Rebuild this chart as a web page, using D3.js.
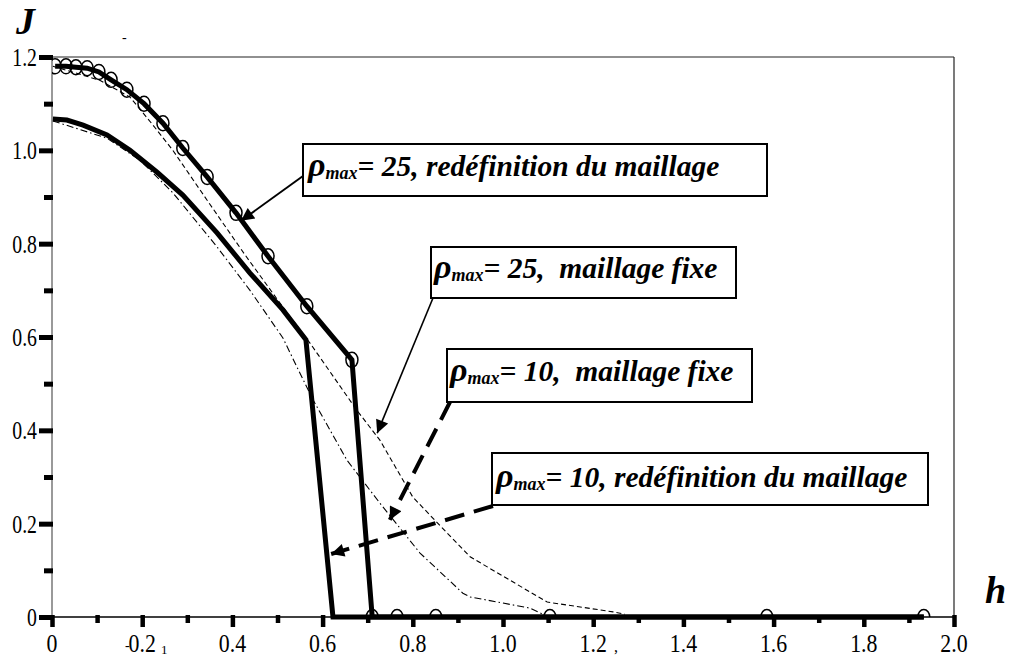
<!DOCTYPE html>
<html><head><meta charset="utf-8">
<script src="https://cdn.jsdelivr.net/npm/d3@7/dist/d3.min.js"></script>
<style>
body{margin:0;background:#fff}svg{display:block}
text{font-family:"Times New Roman","Liberation Serif",serif;}
</style>
</head><body>
<svg id="c" width="1015" height="657"></svg>
<script>
// ---------- data ----------
const xMajorTicks = [0,0.2,0.4,0.6,0.8,1.0,1.2,1.4,1.6,1.8,2.0];
const xTickLabels = ["0","0.2","0.4","0.6","0.8","1.0","1.2","1.4","1.6","1.8","2.0"];
const xMinorTicks = [0.1,0.3,0.5,0.7,0.9,1.1,1.3,1.5,1.7,1.9];
const yMajorTicks = [0,0.2,0.4,0.6,0.8,1.0,1.2];
const yTickLabels = ["0","0.2","0.4","0.6","0.8","1.0","1.2"];
const yMinorTicks = [0.1,0.3,0.5,0.7,0.9,1.1];

// rho_max = 25, redefinition du maillage (thick + circles)
const h25r = [0.007,0.031,0.053,0.078,0.104,0.131,0.166,0.204,0.246,0.29,0.344,0.408,0.479,0.565,0.665,0.71,0.765,0.851,1.104,1.585,1.933];
const j25r = [1.18,1.18,1.178,1.176,1.168,1.151,1.13,1.10,1.058,1.005,0.943,0.866,0.773,0.666,0.551,0,0,0,0,0,0];
// rho_max = 10, redefinition du maillage (thick)
const h10r = [0.002,0.033,0.069,0.122,0.173,0.233,0.29,0.366,0.439,0.512,0.563,0.623,1.933];
const j10r = [1.067,1.065,1.054,1.033,1.0,0.953,0.904,0.823,0.737,0.658,0.594,0,0];
// rho_max = 25, maillage fixe (thin dashed)
const h25f = [0.002,0.069,0.106,0.173,0.224,0.268,0.344,0.428,0.512,0.572,0.676,0.727,0.800,0.876,0.927,1.098,1.244,1.27];
const j25f = [1.18,1.161,1.15,1.114,1.054,1.0,0.893,0.776,0.664,0.587,0.443,0.379,0.257,0.18,0.129,0.032,0.011,0.006];
// rho_max = 10, maillage fixe (thin dash-dot)
const h10f = [0.002,0.122,0.195,0.268,0.366,0.439,0.512,0.543,0.579,0.654,0.727,0.816,0.911,0.927,1.06,1.093];
const j10f = [1.063,1.026,0.979,0.909,0.793,0.70,0.598,0.536,0.465,0.336,0.244,0.137,0.051,0.043,0.019,0.004];

// annotations
const annValues = ["25","25","10","10"];
const annTexts = [", redéfinition du maillage", ",  maillage fixe", ",  maillage fixe", ", redéfinition du maillage"];
const annTipH = [0.419,0.721,0.749,0.619];
const annTipJ = [0.849,0.394,0.208,0.135];

// ---------- layout ----------
const svg = d3.select("#c");
const x = d3.scaleLinear().domain([0,2]).range([52,954]);
const y = d3.scaleLinear().domain([0,1.2]).range([617,57]);

const boxes = [
  {x:303,y:144,w:464,h:52, sx:303,sy:176, tx:308, ty:176, dash:null, sw:2},
  {x:431,y:247,w:305,h:51, sx:433,sy:298, tx:434, ty:278, dash:null, sw:1.6},
  {x:447,y:349,w:305,h:53, sx:450,sy:402, tx:450, ty:381, dash:"20,10", sw:4},
  {x:492,y:453,w:436,h:52, sx:493,sy:506, tx:496, ty:487, dash:"20,10", sw:4}
];

const defs = svg.append("defs");
defs.append("clipPath").attr("id","plotclip").append("rect")
  .attr("x",x(0)).attr("y",y(1.2)-10).attr("width",x(2)-x(0)).attr("height",y(0)-y(1.2)+10);
defs.append("marker").attr("id","ah").attr("viewBox","0 0 10 10")
  .attr("refX",10).attr("refY",5).attr("markerWidth",16).attr("markerHeight",13)
  .attr("markerUnits","userSpaceOnUse").attr("orient","auto")
  .append("path").attr("d","M0,0L10,5L0,10Z").attr("fill","#000");

// frame
svg.append("line").attr("x1",x(0)).attr("x2",x(2)).attr("y1",y(1.2)).attr("y2",y(1.2)).attr("stroke","#222").attr("stroke-width",1.2);
svg.append("line").attr("x1",x(2)).attr("x2",x(2)).attr("y1",y(1.2)).attr("y2",y(0)).attr("stroke","#222").attr("stroke-width",1.2);
svg.append("line").attr("x1",x(0)).attr("x2",x(0)).attr("y1",y(1.2)).attr("y2",y(0)).attr("stroke","#777").attr("stroke-width",1.5);
svg.append("line").attr("x1",x(0)).attr("x2",x(2)).attr("y1",y(0)).attr("y2",y(0)).attr("stroke","#000").attr("stroke-width",1.5);

// ticks via d3 axes
function tickAxis(axis, sw){
  const g = svg.append("g").call(axis);
  g.select(".domain").remove();
  g.selectAll(".tick line").attr("stroke","#000").attr("stroke-width",sw);
  g.selectAll(".tick text").remove();
  return g;
}
tickAxis(d3.axisBottom(x).tickValues(xMajorTicks).tickSize(12).tickFormat(""), 4.5).attr("transform",`translate(0,${y(0)-2})`);
tickAxis(d3.axisBottom(x).tickValues(xMinorTicks).tickSize(8).tickFormat(""), 4.5).attr("transform",`translate(0,${y(0)-2})`);
tickAxis(d3.axisLeft(y).tickValues(yMajorTicks).tickSize(14).tickFormat(""), 5).attr("transform",`translate(${x(0)+1},0)`);
tickAxis(d3.axisLeft(y).tickValues(yMinorTicks).tickSize(9).tickFormat(""), 5).attr("transform",`translate(${x(0)+1},0)`);

// tick labels (condensed serif)
yMajorTicks.forEach((v,i)=>{
  svg.append("text").attr("transform",`translate(37,${y(v)+9}) scale(0.76,1)`)
    .attr("text-anchor","end").attr("font-size",26).attr("fill","#000").text(yTickLabels[i]);
});
xMajorTicks.forEach((v,i)=>{
  svg.append("text").attr("transform",`translate(${x(v)},652) scale(0.84,1)`)
    .attr("text-anchor","middle").attr("font-size",26).attr("fill","#000").text(xTickLabels[i]);
});
// small scan artefacts present in reference
svg.append("text").attr("x",125).attr("y",650).attr("font-size",14).text("-");
svg.append("text").attr("x",161).attr("y",654).attr("font-size",13).text("1");
svg.append("text").attr("x",614).attr("y",652).attr("font-size",16).text(",");
svg.append("text").attr("x",122).attr("y",42).attr("font-size",14).text("-");

// axis titles
svg.append("text").attr("x",16).attr("y",34).attr("font-weight","bold").attr("font-style","italic").attr("font-size",38).text("J");
svg.append("text").attr("x",985).attr("y",603).attr("font-weight","bold").attr("font-style","italic").attr("font-size",38).text("h");

// curves
const line = d3.line().x(d=>x(d[0])).y(d=>y(d[1]));
const zip = (a,b)=>a.map((v,i)=>[v,b[i]]);
svg.append("path").datum(zip(h25f,j25f)).attr("d",line).attr("fill","none").attr("stroke","#000").attr("stroke-width",1.1).attr("stroke-dasharray","5,3");
svg.append("path").datum(zip(h10f,j10f)).attr("d",line).attr("fill","none").attr("stroke","#000").attr("stroke-width",1.1).attr("stroke-dasharray","7,3,1.5,3");
svg.append("path").datum(zip(h10r,j10r)).attr("d",line).attr("fill","none").attr("stroke","#000").attr("stroke-width",5).attr("stroke-linejoin","miter");
svg.append("path").datum(zip(h25r,j25r)).attr("d",line).attr("fill","none").attr("stroke","#000").attr("stroke-width",5).attr("stroke-linejoin","miter");
svg.append("g").attr("clip-path","url(#plotclip)").selectAll("ellipse").data(zip(h25r,j25r)).join("ellipse")
  .attr("cx",d=>x(d[0])).attr("cy",d=>y(d[1])).attr("rx",6).attr("ry",7.5)
  .attr("fill","none").attr("stroke","#000").attr("stroke-width",1.5);

// annotations
boxes.forEach((b,i)=>{
  svg.append("line").attr("x1",b.sx).attr("y1",b.sy).attr("x2",x(annTipH[i])).attr("y2",y(annTipJ[i]))
    .attr("stroke","#000").attr("stroke-width",b.sw).attr("stroke-dasharray",b.dash).attr("marker-end","url(#ah)");
  svg.append("rect").attr("x",b.x).attr("y",b.y).attr("width",b.w).attr("height",b.h)
    .attr("fill","#fff").attr("stroke","#000").attr("stroke-width",2);
  const t = svg.append("text").attr("x",b.tx).attr("y",b.ty)
    .attr("font-weight","bold").attr("font-style","italic").attr("font-size",29.5).style("white-space","pre");
  t.append("tspan").attr("font-size",34).text("ρ");
  t.append("tspan").attr("font-size",18).attr("dy",3).text("max");
  t.append("tspan").attr("dy",-3).text("= " + annValues[i] + annTexts[i]);
});
</script>
</body></html>
